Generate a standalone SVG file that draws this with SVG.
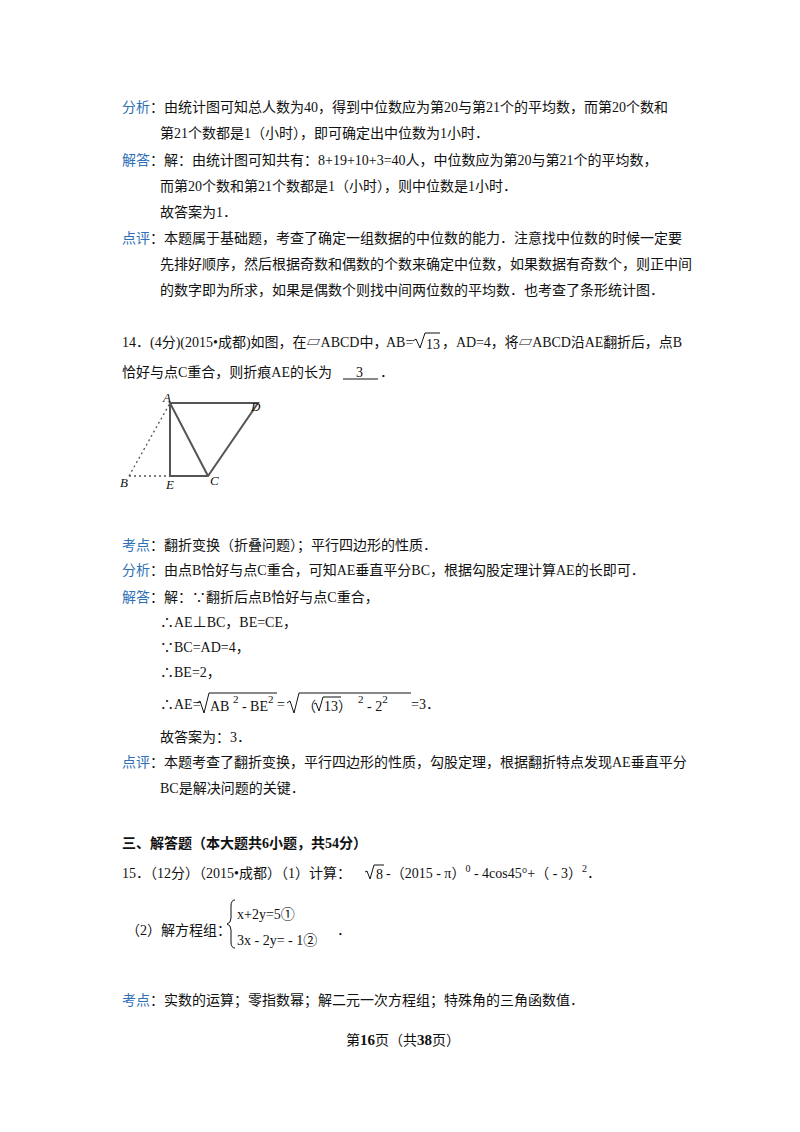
<svg xmlns="http://www.w3.org/2000/svg" width="800" height="1132" viewBox="0 0 800 1132">
<style>
text{font-family:"Liberation Serif","Noto Sans CJK SC",serif;font-size:14px;fill:#111}
.l{fill:#2e6fb5}
.b{font-weight:bold}
.f{font-style:italic;font-size:13px}
.s{stroke:#555;stroke-width:2;fill:none}
.d{stroke:#555;stroke-width:1.3;stroke-dasharray:2,3;fill:none}
.r{stroke:#111;stroke-width:1;fill:none}
</style>
<rect width="800" height="1132" fill="#fff"/>
<text x="122" y="112"><tspan class="l">分析</tspan>：由统计图可知总人数为40，得到中位数应为第20与第21个的平均数，而第20个数和</text>
<text x="160" y="138">第21个数都是1（小时），即可确定出中位数为1小时．</text>
<text x="122" y="165"><tspan class="l">解答</tspan>：解：由统计图可知共有：8+19+10+3=40人，中位数应为第20与第21个的平均数，</text>
<text x="160" y="191">而第20个数和第21个数都是1（小时），则中位数是1小时．</text>
<text x="160" y="217">故答案为1．</text>
<text x="122" y="243"><tspan class="l">点评</tspan>：本题属于基础题，考查了确定一组数据的中位数的能力．注意找中位数的时候一定要</text>
<text x="160" y="269">先排好顺序，然后根据奇数和偶数的个数来确定中位数，如果数据有奇数个，则正中间</text>
<text x="160" y="295">的数字即为所求，如果是偶数个则找中间两位数的平均数．也考查了条形统计图．</text>
<text x="122" y="347">14．(4分)(2015•成都)如图，在▱ABCD中，</text>
<text x="386" y="347">AB=</text>
<path class="r" d="M413 341 l3 -2 l4 9 l5 -15 h15"/>
<text x="426" y="349">13</text>
<text x="442" y="347" textLength="240" lengthAdjust="spacing">，AD=4，将▱ABCD沿AE翻折后，点B</text>
<text x="122" y="377">恰好与点C重合，则折痕AE的长为</text>
<text x="356" y="377">3</text>
<line class="r" x1="343" y1="379" x2="378" y2="379"/>
<text x="380" y="377">．</text>
<g id="figure">
<line class="d" x1="129" y1="476" x2="170" y2="403"/>
<line class="d" x1="129" y1="476" x2="170" y2="476"/>
<path class="s" d="M170 403 V476 H208 L258 403 H170 L208 476"/>
<text class="f" x="163" y="402">A</text>
<text class="f" x="251" y="411">D</text>
<text class="f" x="120" y="487">B</text>
<text class="f" x="166" y="489">E</text>
<text class="f" x="210" y="485">C</text>
</g>
<text x="122" y="550"><tspan class="l">考点</tspan>：翻折变换（折叠问题）；平行四边形的性质．</text>
<text x="122" y="575"><tspan class="l">分析</tspan>：由点B恰好与点C重合，可知AE垂直平分BC，根据勾股定理计算AE的长即可．</text>
<text x="122" y="602"><tspan class="l">解答</tspan>：解：∵翻折后点B恰好与点C重合，</text>
<text x="160" y="627">∴AE⊥BC，BE=CE，</text>
<text x="160" y="652">∵BC=AD=4，</text>
<text x="160" y="677">∴BE=2，</text>
<text x="160" y="709">∴AE=</text>
<path class="r" d="M197 703 l3 -2 l4 12 l5 -20 h68"/>
<text x="210" y="711">AB <tspan dy="-8" font-size="11">2</tspan><tspan dy="8"> - BE</tspan><tspan dy="-8" font-size="11">2</tspan></text>
<text x="277" y="709">=</text>
<path class="r" d="M287 703 l3 -2 l4 12 l5 -20 h112"/>
<text x="302" y="711">（</text>
<path class="r" d="M314 704 l2 -1 l3 8 l4 -14 h18"/>
<text x="324" y="711">13）<tspan dx="6" dy="-8" font-size="11">2</tspan><tspan dy="8"> - 2</tspan><tspan dy="-8" font-size="11">2</tspan></text>
<text x="411" y="709">=3．</text>
<text x="160" y="742">故答案为：3．</text>
<text x="122" y="767"><tspan class="l">点评</tspan>：本题考查了翻折变换，平行四边形的性质，勾股定理，根据翻折特点发现AE垂直平分</text>
<text x="160" y="793">BC是解决问题的关键．</text>
<text class="b" x="122" y="848">三、解答题（本大题共6小题，共54分）</text>
<text x="122" y="878">15．（12分）（2015•成都）（1）计算：</text>
<path class="r" d="M365 872 l2 -1 l3 8 l4 -14 h10"/>
<text x="376" y="879">8</text>
<text x="386" y="878">-（2015 - π）<tspan dy="-6" font-size="10">0</tspan><tspan dy="6"> - 4cos45°+（ - 3）</tspan><tspan dy="-6" font-size="10">2</tspan><tspan dy="6">．</tspan></text>
<text x="126" y="935">（2）解方程组：</text>
<path class="r" d="M235 900 q-4 0 -4 6 v12 q0 5 -4 6 q4 1 4 6 v12 q0 6 4 6"/>
<text x="237" y="919">x+2y=5①</text>
<text x="237" y="945">3x - 2y= - 1②</text>
<text x="337" y="935">．</text>
<text x="122" y="1005"><tspan class="l">考点</tspan>：实数的运算；零指数幂；解二元一次方程组；特殊角的三角函数值．</text>
<text x="346" y="1045" font-size="13">第<tspan class="b" font-size="15">16</tspan>页（共<tspan class="b" font-size="15">38</tspan>页）</text>
</svg>
